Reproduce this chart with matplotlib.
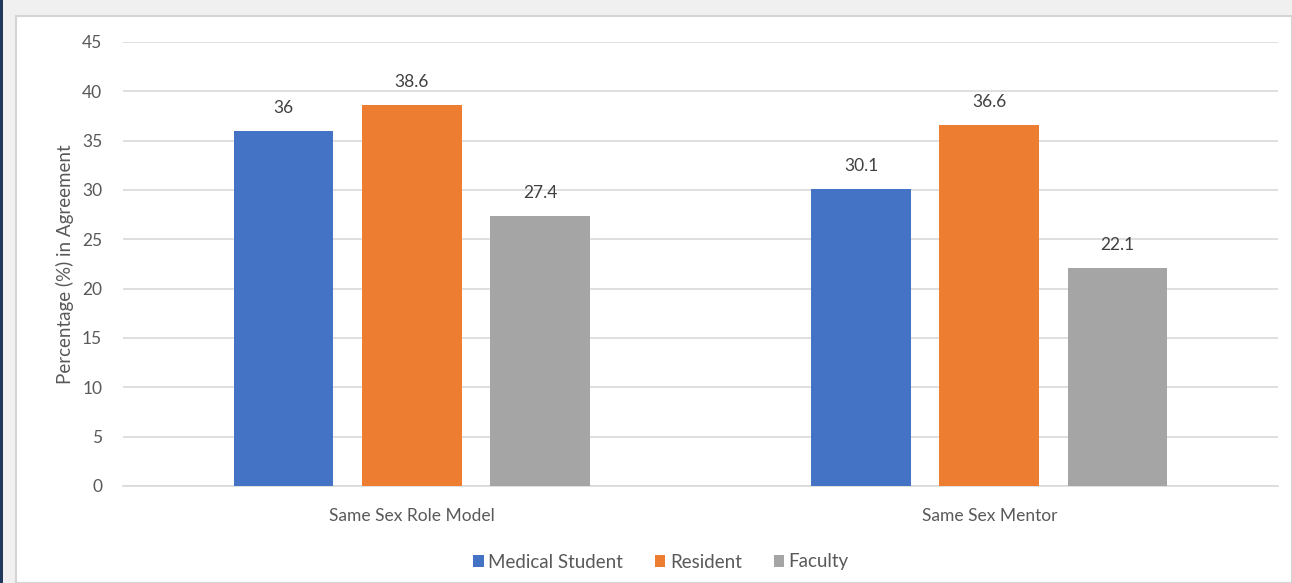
import matplotlib
matplotlib.use("Agg")
import matplotlib.pyplot as plt
from matplotlib.patches import Rectangle
import numpy as np

categories = ["Same Sex Role Model", "Same Sex Mentor"]
series_names = ["Medical Student", "Resident", "Faculty"]
medical_student = [36, 30.1]
resident = [38.6, 36.6]
faculty = [27.4, 22.1]
colors = ["#4472c4", "#ed7d31", "#a5a5a5"]
y_ticks = [0, 5, 10, 15, 20, 25, 30, 35, 40, 45]

plt.rcParams["font.family"] = ["Lato", "DejaVu Sans"]
text_color = "#595959"

W, H = 1292, 583
fig = plt.figure(figsize=(W / 100, H / 100), dpi=100, facecolor="#f0f0f0")

# white chart panel with a light frame, plus dark edge on the left
fig.patches.append(Rectangle((16 / W, 0), 1 - 16 / W, 1 - 16 / H, transform=fig.transFigure,
                             facecolor="white", edgecolor="#d4d4d4", linewidth=1.5, zorder=-10))
fig.patches.append(Rectangle((0, 0), 2.5 / W, 1, transform=fig.transFigure,
                             facecolor="#22395e", edgecolor="none", zorder=-9))

ax = fig.add_axes([123 / W, 1 - 486 / H, (1278 - 123) / W, (486 - 42) / H])
ax.set_zorder(5)
ax.set_facecolor("none")

x = np.arange(len(categories))
width = 0.173
step = 0.222
for i, (vals, name, c) in enumerate(zip([medical_student, resident, faculty], series_names, colors)):
    pos = x + (i - 1) * step
    bars = ax.bar(pos, vals, width, color=c, label=name, zorder=3)
    for b, v in zip(bars, vals):
        ax.text(b.get_x() + b.get_width() / 2, v + 2.3, f"{v:g}", ha="center", va="center",
                fontsize=12.5, color="#404040")

ax.set_xlim(-0.5, 1.5)
ax.set_ylim(0, 45)
ax.set_yticks(y_ticks)
ax.set_xticks(x)
ax.set_xticklabels(categories)
ax.grid(axis="y", color="#d9d9d9", linewidth=1.2, zorder=0)
ax.set_axisbelow(True)
for s in ["top", "right", "left"]:
    ax.spines[s].set_visible(False)
ax.spines["bottom"].set_color("#d9d9d9")
ax.spines["bottom"].set_linewidth(1.2)
ax.tick_params(axis="both", length=0, labelsize=12.5, labelcolor=text_color)
ax.tick_params(axis="y", pad=15)
ax.tick_params(axis="x", pad=16)
ax.set_ylabel("Percentage (%) in Agreement", fontsize=13.5, color=text_color, labelpad=6)

handles, labels = ax.get_legend_handles_labels()
fig.legend(handles, labels, loc="center", bbox_to_anchor=(661 / W, 1 - 562 / H), ncol=3,
           frameon=False, fontsize=13.5, labelcolor=text_color, handlelength=0.55,
           handleheight=0.55, handletextpad=0.25, columnspacing=1.7)

fig.savefig("out.png", dpi=100, facecolor=fig.get_facecolor())
